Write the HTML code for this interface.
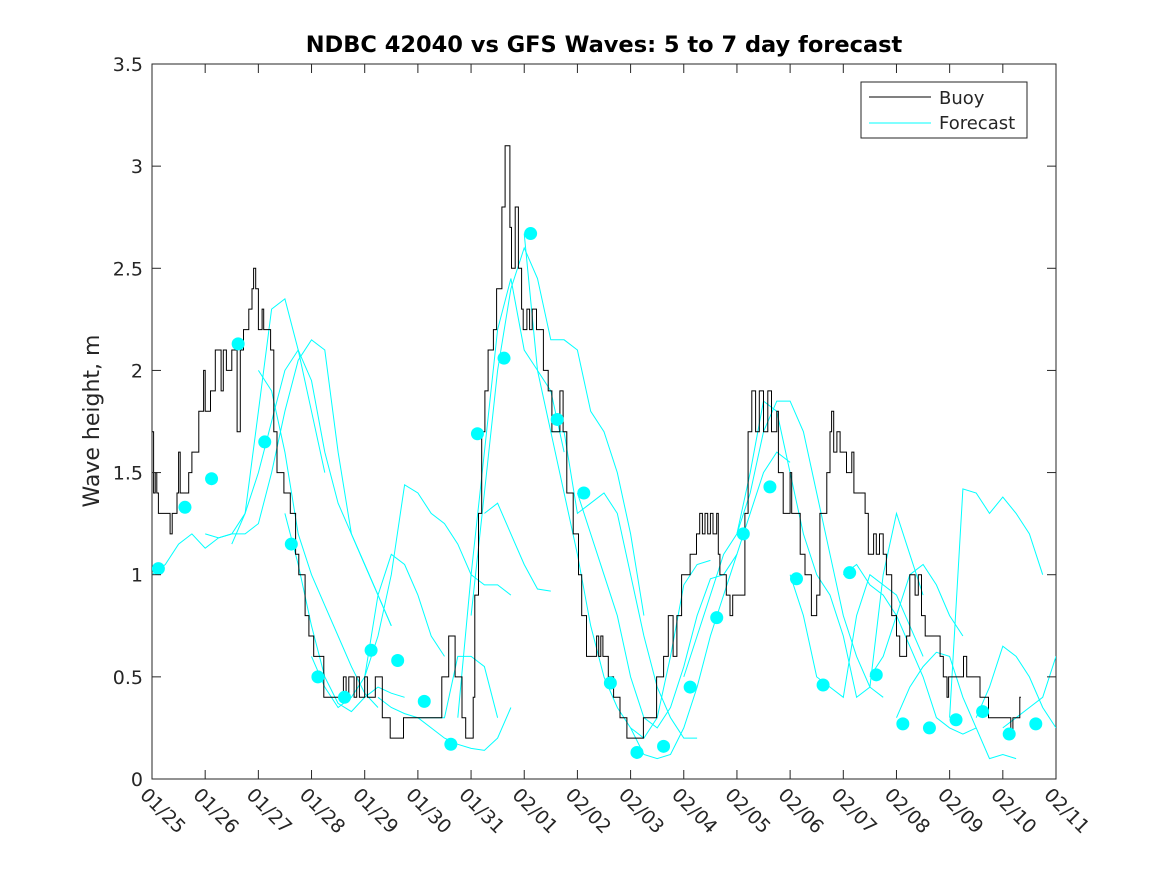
<!DOCTYPE html>
<html><head><meta charset="utf-8"><style>
body{margin:0;background:#fff;}
svg text{font-family:"DejaVu Sans","Liberation Sans",sans-serif;fill:#262626;}
</style></head><body>
<svg id="chart" width="1167" height="875" viewBox="0 0 1167 875" xmlns="http://www.w3.org/2000/svg">
<defs><clipPath id="plotclip"><rect x="152" y="64" width="904" height="715"/></clipPath></defs>
<rect width="1167" height="875" fill="#fff"/>
<text x="604" y="52" text-anchor="middle" font-size="22.5" font-weight="bold" style="fill:#000">NDBC 42040 vs GFS Waves: 5 to 7 day forecast</text>
<text transform="translate(99,421) rotate(-90)" text-anchor="middle" font-size="22">Wave height, m</text>
<rect x="152" y="64" width="904" height="715" fill="none" stroke="#262626" stroke-width="1"/>
<g id="series" clip-path="url(#plotclip)"></g>
<g id="axes"></g>
<g>
<rect x="861" y="82" width="166" height="56" fill="#fff" stroke="#262626"/>
<line x1="869" y1="97" x2="931" y2="97" stroke="#000"/>
<text x="939" y="104" font-size="18">Buoy</text>
<line x1="869" y1="123" x2="931" y2="123" stroke="#00ffff"/>
<text x="939" y="129" font-size="18">Forecast</text>
</g>
</svg>
<script>
const dateLabels=["01/25","01/26","01/27","01/28","01/29","01/30","01/31","02/01","02/02","02/03","02/04","02/05","02/06","02/07","02/08","02/09","02/10","02/11"];
const yTicks=[0,0.5,1,1.5,2,2.5,3,3.5];
const yTickLabels=["0","0.5","1","1.5","2","2.5","3","3.5"];
const buoyDays=[0,0.03,0.06,0.09,0.12,0.34,0.38,0.47,0.5,0.53,0.69,0.75,0.88,0.97,1.0,1.1,1.19,1.3,1.34,1.4,1.5,1.6,1.66,1.72,1.82,1.88,1.91,1.95,2.0,2.07,2.1,2.16,2.23,2.29,2.35,2.48,2.6,2.7,2.76,2.88,2.95,3.04,3.23,3.6,3.65,3.7,3.8,3.85,3.9,4.0,4.05,4.2,4.33,4.48,4.7,4.73,5.33,5.45,5.58,5.7,5.83,5.9,
6.04,6.07,6.14,6.2,6.26,6.32,6.42,6.48,6.58,6.64,6.73,6.76,6.83,6.89,6.95,6.98,7.05,7.1,7.15,7.23,7.3,7.36,7.45,7.52,7.67,7.73,7.8,7.92,8.02,8.08,8.17,8.36,8.4,8.44,8.48,8.58,8.68,8.8,8.93,9.24,9.49,9.62,9.71,9.8,9.87,9.96,10.12,10.24,10.3,10.35,10.4,10.45,10.5,10.55,10.62,10.65,10.68,10.8,10.87,10.92,11.06,11.15,11.21,
11.28,11.35,11.42,11.5,11.58,11.65,11.75,11.78,11.87,12.0,12.03,12.06,12.19,12.28,12.4,12.5,12.56,12.69,12.75,12.78,12.82,12.88,12.94,13.06,13.16,13.2,13.25,13.41,13.47,13.57,13.62,13.68,13.75,13.81,13.91,14.0,14.06,14.19,14.25,14.35,14.41,14.47,14.54,14.6,14.82,14.88,14.95,14.98,15.26,15.32,15.38,15.57,15.73,16.15,16.19,16.32,16.34];
const buoyValues=[1.7,1.4,1.5,1.4,1.3,1.2,1.3,1.4,1.6,1.4,1.5,1.6,1.8,2.0,1.8,1.9,2.1,1.9,2.1,2.0,2.1,1.7,2.1,2.2,2.3,2.4,2.5,2.4,2.2,2.3,2.2,2.2,2.1,1.7,1.5,1.4,1.3,1.1,1.0,0.8,0.7,0.6,0.4,0.5,0.4,0.5,0.4,0.5,0.4,0.5,0.4,0.5,0.3,0.2,0.2,0.3,0.3,0.5,0.7,0.5,0.3,0.2,
0.4,0.9,1.3,1.7,1.9,2.1,2.2,2.4,2.8,3.1,2.7,2.5,2.8,2.5,2.3,2.2,2.3,2.2,2.3,2.2,2.2,2.0,1.9,1.7,1.9,1.7,1.4,1.2,1.0,0.8,0.6,0.7,0.6,0.7,0.6,0.5,0.4,0.3,0.2,0.3,0.5,0.6,0.8,0.6,0.8,1.0,1.1,1.2,1.3,1.2,1.3,1.2,1.3,1.2,1.3,1.1,1.0,0.9,0.8,0.9,0.9,1.3,1.7,
1.9,1.7,1.9,1.7,1.9,1.7,1.8,1.5,1.3,1.5,1.3,1.3,1.1,1.0,0.8,0.9,1.3,1.5,1.7,1.8,1.6,1.7,1.6,1.5,1.6,1.4,1.4,1.3,1.1,1.2,1.1,1.2,1.1,1.0,0.8,0.7,0.6,0.7,1.0,0.9,1.0,0.8,0.7,0.7,0.6,0.5,0.4,0.5,0.6,0.5,0.5,0.4,0.3,0.2,0.3,0.4,0.4];
const buoyEnd=16.34;
const dotValues=[1.03,1.33,1.47,2.13,1.65,1.15,0.5,0.4,0.63,0.58,0.38,0.17,1.69,2.06,2.67,1.76,1.4,0.47,0.13,0.16,0.45,0.79,1.2,1.43,0.98,0.46,1.01,0.51,0.27,0.25,0.29,0.33,0.22,0.27];
const dotStart=0.12, dotStep=0.5;
const fcStarts=[0,1,1.5,2,2.5,3,4,4.25,5,5.75,6,6.25,7,7.5,8,9,10,11,12,13,13.5,14,15,15.5,16];
const fcValues=[
[1.0,1.05,1.15,1.2,1.13,1.18,1.2,1.3,1.8,2.3,2.35,2.1,1.8,1.5],
[1.2,1.18,1.2,1.2,1.25,1.5,1.8,2.05,2.15,2.1,1.6,1.2,1.05,0.9,0.75],
[1.15,1.3,1.5,1.75,2.0,2.1,1.95,1.6,1.35,1.2,1.05,0.9,0.75],
[2.0,1.9,1.6,1.2,1.0,0.85,0.7,0.55,0.42,0.35],
[1.3,1.05,0.75,0.5,0.37,0.33,0.4,0.45,0.42,0.4],
[0.6,0.45,0.35,0.4,0.5,0.9,1.1,1.05,0.9,0.7,0.6],
[0.5,0.7,1.0,1.44,1.4,1.3,1.25,1.15,1.0,0.95,0.95,0.9],
[0.4,0.35,0.32,0.3,0.3,0.3,0.6,0.6,0.55,0.3],
[0.3,0.25,0.2,0.17,0.15,0.14,0.2,0.35],
[0.3,1.0,1.6,2.2,2.45,2.1,2.0,1.9,1.6],
[0.8,1.4,2.0,2.4,2.6,2.45,2.15,2.15,2.1,1.8,1.7,1.5,1.2,0.8],
[1.3,1.35,1.2,1.05,0.93,0.92],
[2.67,2.0,1.7,1.7,1.3,1.35,1.4,1.3,1.0,0.7,0.45,0.3,0.2,0.2],
[1.7,1.4,1.1,0.75,0.5,0.35,0.25,0.2,0.3,0.6,0.95,1.05,1.07],
[1.4,1.2,1.0,0.8,0.5,0.3,0.25,0.35,0.55,0.8,0.98,1.0,1.1],
[0.25,0.12,0.1,0.12,0.25,0.45,0.7,0.9,1.1,1.3,1.5,1.6,1.55],
[0.5,0.7,0.9,1.1,1.2,1.4,1.7,1.85,1.85,1.7,1.4,1.1,0.8,0.6,0.45,0.4],
[1.2,1.5,1.85,1.8,1.5,1.2,1.0,0.9,0.7,0.4,0.45,1.0,1.3,1.1,0.9],
[1.0,0.8,0.5,0.45,0.4,0.8,1.0,0.95,0.9,0.75,0.6],
[1.0,1.05,0.95,0.9,0.8,0.65,0.5,0.3,0.25,0.22,0.25],
[0.5,0.6,0.8,1.0,1.05,0.95,0.8,0.7],
[0.3,0.45,0.55,0.62,0.6,0.4,0.25,0.1,0.12,0.1],
[0.3,1.42,1.4,1.3,1.38,1.3,1.2,1.0],
[0.3,0.45,0.65,0.6,0.5,0.35,0.25],
[0.25,0.3,0.35,0.4,0.6]];
const fcStep=0.25;

const NS="http://www.w3.org/2000/svg";
const L=152,R=1056,T=64,B=779;
const xS=d=>L+d*(R-L)/(dateLabels.length-1);
const yS=v=>B-v*(B-T)/3.5;
const series=document.getElementById('series');
const axes=document.getElementById('axes');
function mk(tag,attrs,parent){const e=document.createElementNS(NS,tag);for(const k in attrs)e.setAttribute(k,attrs[k]);parent.appendChild(e);return e;}

yTicks.forEach((v,i)=>{
  const y=yS(v);
  const t1=mk('line',{x1:L,y1:y,x2:L+9,y2:y,stroke:'#262626'},axes);
  
  
  mk('line',{x1:R,y1:y,x2:R-9,y2:y,stroke:'#262626'},axes);
  const tx=mk('text',{x:L-9,y:y+7,'text-anchor':'end','font-size':19},axes);
  tx.textContent=yTickLabels[i];
  
  
});
dateLabels.forEach((lab,i)=>{
  const x=xS(i);
  const t1=mk('line',{x1:x,y1:B,x2:x,y2:B-9,stroke:'#262626'},axes);
  
  
  mk('line',{x1:x,y1:T,x2:x,y2:T+9,stroke:'#262626'},axes);
  const tx=mk('text',{transform:`translate(${x-13},${B+17}) rotate(45)`,'font-size':19},axes);
  tx.textContent=lab;
  
  
});

fcValues.forEach((vals,k)=>{
  const pts=vals.map((v,j)=>xS(fcStarts[k]+j*fcStep).toFixed(1)+','+yS(v).toFixed(1)).join(' ');
  const pl=mk('polyline',{points:pts,fill:'none',stroke:'#00ffff','stroke-width':1},series);
  
  
});
let bp=[];
buoyValues.forEach((v,i)=>{
  const d1=i+1<buoyDays.length?buoyDays[i+1]:buoyEnd;
  bp.push(xS(buoyDays[i]).toFixed(1)+','+yS(v).toFixed(1));
  bp.push(xS(d1).toFixed(1)+','+yS(v).toFixed(1));
});
const bl=mk('polyline',{points:bp.join(' '),fill:'none',stroke:'#000','stroke-width':1},series);


dotValues.forEach((v,i)=>{
  const c=mk('circle',{cx:xS(dotStart+i*dotStep),cy:yS(v),r:6.5,fill:'#00ffff'},series);
  
  
});
</script>
</body></html>
